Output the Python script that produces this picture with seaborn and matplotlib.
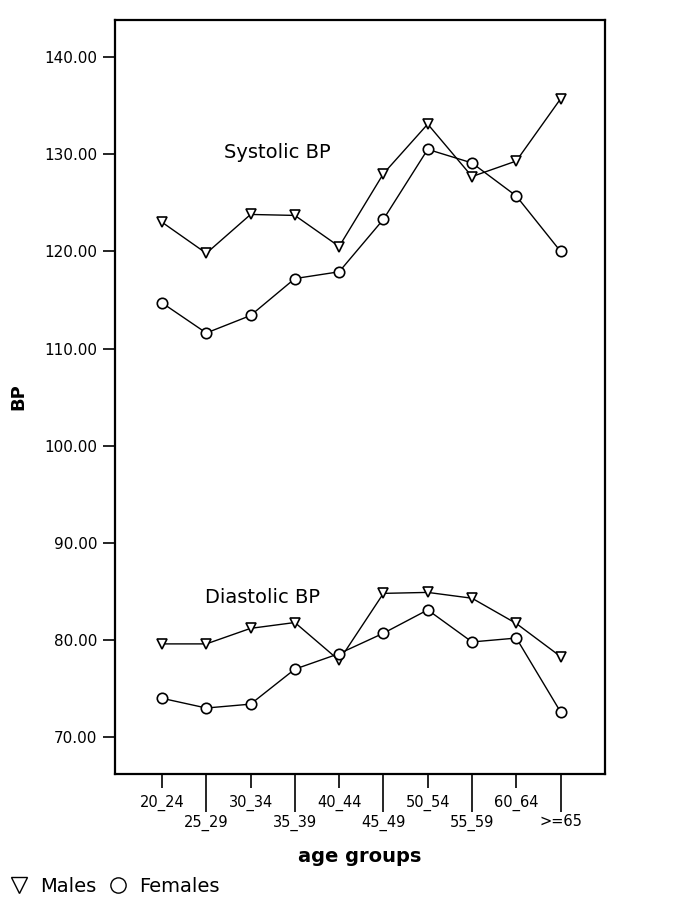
import numpy as np
import pandas as pd
import seaborn as sns
import matplotlib.pyplot as plt
from matplotlib.lines import Line2D
from matplotlib.ticker import FixedLocator, FixedFormatter

age_groups = ['20_24', '25_29', '30_34', '35_39', '40_44',
              '45_49', '50_54', '55_59', '60_64', '>=65']
sys_males = [123.0, 119.8, 123.8, 123.7, 120.5, 128.0, 133.1, 127.7, 129.3, 135.7]
sys_females = [114.7, 111.6, 113.4, 117.2, 117.9, 123.3, 130.5, 129.1, 125.7, 120.0]
dia_males = [79.6, 79.6, 81.2, 81.8, 77.9, 84.8, 84.9, 84.3, 81.7, 78.3]
dia_females = [74.0, 73.0, 73.4, 77.0, 78.6, 80.7, 83.1, 79.8, 80.2, 72.6]
y_ticks = [70, 80, 90, 100, 110, 120, 130, 140]

sns.set_style('ticks')
plt.rcParams['font.family'] = ['DejaVu Sans']
plt.rcParams['text.color'] = 'black'
plt.rcParams['axes.labelcolor'] = 'black'
plt.rcParams['xtick.color'] = 'black'
plt.rcParams['ytick.color'] = 'black'

fig = plt.figure(figsize=(6.85, 9.15), dpi=100)
ax = fig.add_axes([0.168, 0.154, 0.715, 0.824])

pos = np.arange(len(age_groups))
series = [
    (sys_males, 'v'), (sys_females, 'o'),
    (dia_males, 'v'), (dia_females, 'o'),
]
for vals, mk in series:
    df = pd.DataFrame({'pos': pos, 'bp': vals})
    sns.lineplot(data=df, x='pos', y='bp', ax=ax, color='black', lw=1,
                 marker=mk, markersize=7.5, markerfacecolor='white',
                 markeredgecolor='black', markeredgewidth=1.2)

ax.set_xlim(-1.06, 10.0)
ax.set_ylim(66.2, 143.8)

ax.set_yticks(y_ticks)
ax.set_yticklabels([f'{v:.2f}' for v in y_ticks], fontsize=11)
ax.tick_params(axis='y', length=9, width=1.2, pad=4)

# alternating short / long x ticks with staggered labels
ax.xaxis.set_major_locator(FixedLocator(pos[::2]))
ax.xaxis.set_major_formatter(FixedFormatter(age_groups[::2]))
ax.xaxis.set_minor_locator(FixedLocator(pos[1::2]))
ax.xaxis.set_minor_formatter(FixedFormatter(age_groups[1::2]))
ax.tick_params(axis='x', which='major', length=10, width=1.2, pad=5, labelsize=10.5)
ax.tick_params(axis='x', which='minor', length=27, width=1.2, pad=2, labelsize=10.5)

for s in ax.spines.values():
    s.set_visible(True)
    s.set_linewidth(1.6)
    s.set_color('black')

ax.set_xlabel('age groups', fontsize=14, fontweight='bold', labelpad=12)
ax.set_ylabel('BP', fontsize=13, fontweight='bold', labelpad=12)

ax.text(2.6, 130.2, 'Systolic BP', fontsize=14, ha='center', va='center')
ax.text(2.26, 84.4, 'Diastolic BP', fontsize=14, ha='center', va='center')

handles = [
    Line2D([], [], ls='none', marker='v', markersize=11, markerfacecolor='white',
           markeredgecolor='black', label='Males'),
    Line2D([], [], ls='none', marker='o', markersize=11, markerfacecolor='white',
           markeredgecolor='black', label='Females'),
]
fig.legend(handles=handles, loc='lower left', bbox_to_anchor=(-0.015, 0.002),
           ncol=2, frameon=False, fontsize=14, handlelength=1.2,
           handletextpad=0.5, columnspacing=0.5)

fig.savefig('out.png', dpi=100, facecolor='white')
